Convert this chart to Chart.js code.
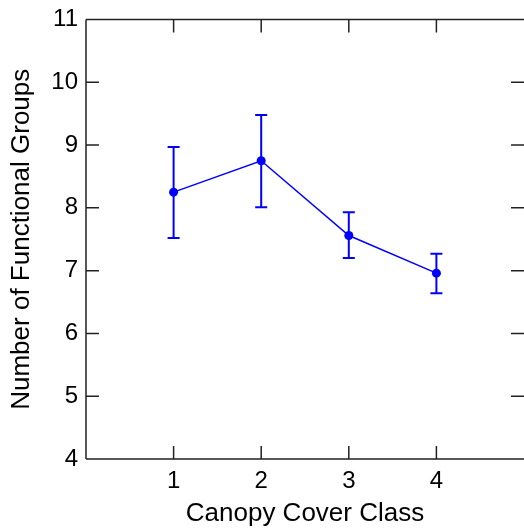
<!DOCTYPE html>
<html>
<head>
<meta charset="utf-8">
<script src="https://cdn.jsdelivr.net/npm/chart.js@4/dist/chart.umd.min.js"></script>
<style>
html,body{margin:0;padding:0;background:#fff;overflow:hidden;}
#c{display:block;}
</style>
</head>
<body>
<canvas id="c" width="524" height="529"></canvas>
<script>
const categories = [1, 2, 3, 4];
const means = [8.25, 8.75, 7.56, 6.96];
const upper = [8.97, 9.48, 7.93, 7.27];
const lower = [7.52, 8.01, 7.20, 6.64];
const yTicks = [4, 5, 6, 7, 8, 9, 10, 11];
const xTicks = [1, 2, 3, 4];

const FONT = "'Liberation Sans', Arial, sans-serif";

const framePlugin = {
  id: 'frame',
  afterDraw(chart) {
    const {ctx, chartArea: a, scales: {x, y}} = chart;
    ctx.save();
    ctx.strokeStyle = '#222';
    ctx.lineWidth = 1.5;
    ctx.beginPath();
    ctx.moveTo(a.left, a.top); ctx.lineTo(a.right + 5, a.top);
    ctx.moveTo(a.left, a.top); ctx.lineTo(a.left, a.bottom);
    ctx.moveTo(a.left, a.bottom); ctx.lineTo(a.right + 5, a.bottom);
    const tl = 13;
    yTicks.forEach(v => {
      const py = y.getPixelForValue(v);
      ctx.moveTo(a.left, py); ctx.lineTo(a.left + tl, py);
      ctx.moveTo(a.right, py); ctx.lineTo(a.right - tl, py);
    });
    xTicks.forEach(v => {
      const px = x.getPixelForValue(v);
      ctx.moveTo(px, a.bottom); ctx.lineTo(px, a.bottom - tl);
      ctx.moveTo(px, a.top); ctx.lineTo(px, a.top + tl);
    });
    ctx.stroke();
    ctx.restore();
  }
};

const errorBarPlugin = {
  id: 'errbars',
  afterDatasetsDraw(chart) {
    const {ctx, scales: {x, y}} = chart;
    ctx.save();
    ctx.strokeStyle = '#0000ff';
    ctx.lineWidth = 2;
    ctx.beginPath();
    categories.forEach((c, i) => {
      const px = x.getPixelForValue(c);
      const pu = y.getPixelForValue(upper[i]);
      const pl = y.getPixelForValue(lower[i]);
      ctx.moveTo(px, pu); ctx.lineTo(px, pl);
      ctx.moveTo(px - 6, pu); ctx.lineTo(px + 6, pu);
      ctx.moveTo(px - 6, pl); ctx.lineTo(px + 6, pl);
    });
    ctx.stroke();
    ctx.restore();
  }
};

new Chart(document.getElementById('c'), {
  type: 'line',
  data: {
    datasets: [{
      data: categories.map((c, i) => ({x: c, y: means[i]})),
      borderColor: '#0000ff',
      backgroundColor: '#0000ff',
      borderWidth: 1.5,
      pointRadius: 4.5,
      pointBorderWidth: 0,
      pointBackgroundColor: '#0000ff',
      tension: 0
    }]
  },
  options: {
    responsive: false,
    animation: false,
    events: [],
    layout: {autoPadding: false, padding: {top: 19.5, right: 0, left: 0, bottom: 0}},
    plugins: {legend: {display: false}, tooltip: {enabled: false}},
    scales: {
      x: {
        type: 'linear',
        min: 0, max: 5,
        afterBuildTicks: s => { s.ticks = xTicks.map(v => ({value: v})); },
        afterFit: s => { s.height = 70; s.paddingLeft = 0; s.paddingRight = 0; },
        grid: {display: false, drawTicks: false},
        border: {display: false},
        ticks: {color: '#000', font: {family: FONT, size: 24}, padding: 8},
        title: {display: true, text: 'Canopy Cover Class', color: '#000',
                font: {family: FONT, size: 26}, padding: {top: 0, bottom: 0}}
      },
      y: {
        type: 'linear',
        min: 4, max: 11,
        afterBuildTicks: s => { s.ticks = yTicks.map(v => ({value: v})); },
        afterFit: s => { s.width = 86; s.paddingTop = 0; s.paddingBottom = 0; },
        grid: {display: false, drawTicks: false},
        border: {display: false},
        ticks: {color: '#000', font: {family: FONT, size: 24}, padding: 8},
        title: {display: true, text: 'Number of Functional Groups', color: '#000',
                font: {family: FONT, size: 26}, padding: {top: 6, bottom: 0}}
      }
    }
  },
  plugins: [framePlugin, errorBarPlugin]
});
</script>
</body>
</html>
